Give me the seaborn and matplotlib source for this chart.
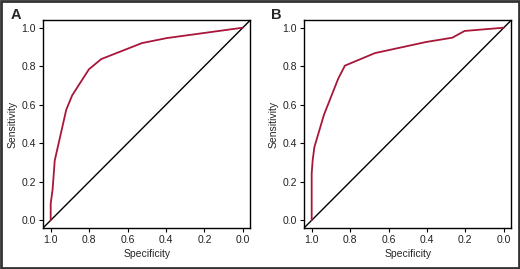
import matplotlib
matplotlib.use("Agg")
from matplotlib import pyplot as plt
from matplotlib.patches import Rectangle
import pandas as pd
import seaborn as sns

# ROC curve A
spec_a = [1.0, 1.0, 0.99, 0.979, 0.919, 0.888, 0.801, 0.737, 0.525, 0.396, 0.0]
sens_a = [0.0, 0.087, 0.16, 0.31, 0.574, 0.649, 0.784, 0.837, 0.920, 0.946, 1.0]

# ROC curve B
spec_b = [1.0, 1.0, 0.995, 0.986, 0.936, 0.862, 0.827, 0.671, 0.403, 0.268, 0.204, 0.0]
sens_b = [0.0, 0.242, 0.31, 0.38, 0.548, 0.735, 0.803, 0.868, 0.926, 0.948, 0.983, 1.0]

ticks = [1.0, 0.8, 0.6, 0.4, 0.2, 0.0]
tick_labels = ["1.0", "0.8", "0.6", "0.4", "0.2", "0.0"]
panel_labels = ["A", "B"]

sns.set_style("white")
plt.rcParams["font.family"] = ["Liberation Sans", "DejaVu Sans"]
narrow = ["Liberation Sans Narrow", "Liberation Sans", "DejaVu Sans"]

RED = "#a8163a"

fig = plt.figure(figsize=(5.2, 2.69), dpi=100)
fig.patches.append(Rectangle((0.002, 0.003), 0.996, 0.994, transform=fig.transFigure,
                             fill=False, edgecolor="#333333", linewidth=2.0))

panels = [(spec_a, sens_a), (spec_b, sens_b)]
lefts = [0.0827, 0.5846]

for i, (spec, sens) in enumerate(panels):
    ax = fig.add_axes([lefts[i], 0.1524, 0.399, 0.7733])
    df = pd.DataFrame({"Specificity": spec, "Sensitivity": sens})
    ax.plot([1.04, -0.04], [-0.04, 1.04], color="black", linewidth=1.0)
    sns.lineplot(data=df, x="Specificity", y="Sensitivity", sort=False, ax=ax,
                 color=RED, linewidth=1.3, estimator=None)
    ax.set_xlim(1.04, -0.04)
    ax.set_ylim(-0.04, 1.04)
    ax.set_xticks(ticks)
    ax.set_xticklabels(tick_labels)
    ax.set_yticks(ticks)
    ax.set_yticklabels(tick_labels)
    ax.tick_params(axis="both", labelsize=7.5, length=3, width=0.8, color="black",
                   bottom=True, left=True, pad=2, labelcolor="#222222")
    for s in ax.spines.values():
        s.set_color("black")
        s.set_linewidth(1.0)
    ax.set_xlabel("Specificity", fontsize=7.5, labelpad=3, family=narrow)
    ax.set_ylabel("Sensitivity", fontsize=7.5, labelpad=3, family=narrow)
    fig.text(lefts[i] - 0.063, 0.945, panel_labels[i], fontsize=10.5, fontweight="bold",
             ha="left", va="center")

fig.savefig("out.png", dpi=100)
